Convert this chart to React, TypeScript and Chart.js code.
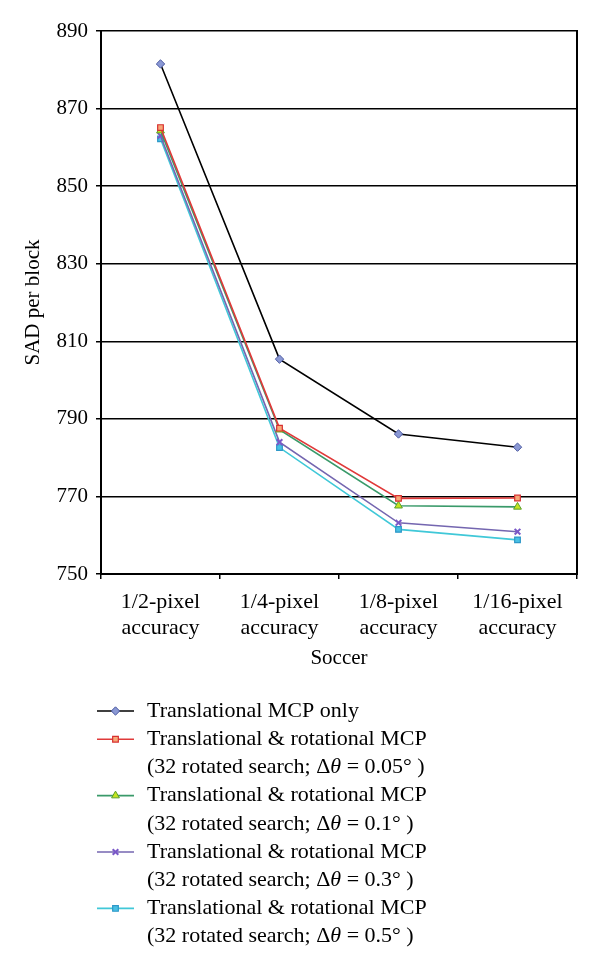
import React, { useEffect, useRef } from 'react';
import { Chart, registerables } from 'chart.js';
import { drawPoint } from 'chart.js/helpers';

Chart.register(...registerables);

// ---- data ----
const categories: string[][] = [
  ['1/2-pixel', 'accuracy'],
  ['1/4-pixel', 'accuracy'],
  ['1/8-pixel', 'accuracy'],
  ['1/16-pixel', 'accuracy'],
];
const translationalOnly = [881.5, 805.4, 786.1, 782.7];
const rotational005 = [865.1, 787.6, 769.5, 769.6];
const rotational01 = [864.3, 787.2, 767.6, 767.3];
const rotational03 = [863.0, 784.0, 763.2, 760.9];
const rotational05 = [862.2, 782.6, 761.5, 758.8];

const seriesLabels = [
  'Translational MCP only',
  'Translational & rotational MCP\n(32 rotated search; Δθ = 0.05° )',
  'Translational & rotational MCP\n(32 rotated search; Δθ = 0.1° )',
  'Translational & rotational MCP\n(32 rotated search; Δθ = 0.3° )',
  'Translational & rotational MCP\n(32 rotated search; Δθ = 0.5° )',
];
const yMin = 750;
const yMax = 890;
const yStep = 20;
const xTitle = 'Soccer';
const yTitle = 'SAD per block';

const FAMILY = '"Liberation Serif", "DejaVu Serif", serif';
const FS = 21;
const FS_LEGEND = 22;
const FS_XTICK = 22;

const legendPlugin = {
  id: 'serifLegend',
  afterDraw(chart: any) {
    const ctx = chart.ctx as CanvasRenderingContext2D;
    const lh = 28.2;
    const x0 = 97;
    const x1 = 134;
    const tx = 147;
    let y = 711;
    chart.data.datasets.forEach((ds: any) => {
      const lines = String(ds.label).split('\n');
      ctx.save();
      ctx.strokeStyle = ds.borderColor;
      ctx.lineWidth = ds.borderWidth;
      ctx.beginPath();
      ctx.moveTo(x0, y);
      ctx.lineTo(x1, y);
      ctx.stroke();
      ctx.fillStyle = ds.pointBackgroundColor;
      ctx.strokeStyle = ds.pointBorderColor;
      ctx.lineWidth = ds.pointBorderWidth;
      drawPoint(ctx, { pointStyle: ds.pointStyle, rotation: 0, radius: ds.pointRadius, borderWidth: ds.pointBorderWidth } as any, (x0 + x1) / 2, y);
      ctx.fillStyle = '#000';
      ctx.textBaseline = 'middle';
      ctx.textAlign = 'left';
      lines.forEach((ln, j) => {
        const parts = ln.split('θ');
        let cx = tx;
        const ly = y + j * lh;
        parts.forEach((p, k) => {
          ctx.font = `${FS_LEGEND}px ${FAMILY}`;
          ctx.fillText(p, cx, ly);
          cx += ctx.measureText(p).width;
          if (k < parts.length - 1) {
            ctx.font = `italic ${FS_LEGEND}px ${FAMILY}`;
            ctx.fillText('θ', cx, ly);
            cx += ctx.measureText('θ').width;
          }
        });
      });
      ctx.restore();
      y += lines.length * lh;
    });
  },
};

export default function App() {
  const ref = useRef<HTMLCanvasElement | null>(null);
  useEffect(() => {
    if (!ref.current) return;
    const mk = (label: string, data: number[], line: string, style: string, fill: string, border: string, radius: number, bw: number) => ({
      label,
      data,
      borderColor: line,
      borderWidth: 1.6,
      pointStyle: style,
      pointBackgroundColor: fill,
      pointBorderColor: border,
      pointBorderWidth: bw,
      pointRadius: radius,
      tension: 0,
      fill: false,
    });
    const chart = new Chart(ref.current, {
      type: 'line',
      data: {
        labels: categories as any,
        datasets: [
          mk(seriesLabels[0], translationalOnly, '#000000', 'rectRot', '#8a98d4', '#4a58a0', 4.2, 1),
          mk(seriesLabels[1], rotational005, '#e03a3a', 'rect', '#f6a878', '#d83030', 4, 1.2),
          mk(seriesLabels[2], rotational01, '#3a9a6a', 'triangle', '#c4e420', '#5aa02a', 4.5, 1),
          mk(seriesLabels[3], rotational03, '#7466b0', 'crossRot', '#8060c8', '#7a58c8', 4, 2),
          mk(seriesLabels[4], rotational05, '#40c8d8', 'rect', '#48c0e4', '#2e98c8', 4, 1.2),
        ] as any,
      },
      options: {
        animation: false,
        responsive: false,
        devicePixelRatio: 1,
        layout: { padding: { top: 31, right: 23, bottom: 966 - 574 - 110, left: 0 } },
        plugins: {
          legend: { display: false },
          tooltip: { enabled: false },
        },
        scales: {
          x: {
            type: 'category',
            offset: true,
            grid: { offset: true, drawOnChartArea: false, drawTicks: true, tickLength: 5, color: '#000', lineWidth: 1.5 },
            border: { color: '#000', width: 2 },
            ticks: { color: '#000', font: { family: FAMILY, size: FS_XTICK, lineHeight: 1.15 }, padding: 11, maxRotation: 0, autoSkip: false },
            title: { display: true, text: xTitle, color: '#000', font: { family: FAMILY, size: FS }, padding: { top: 0, bottom: 13 } },
            afterFit: (s: any) => { s.height = 110; },
          },
          y: {
            min: yMin,
            max: yMax,
            ticks: { stepSize: yStep, color: '#000', font: { family: FAMILY, size: FS }, padding: 8 },
            grid: { color: '#000', lineWidth: 1.5, drawTicks: true, tickLength: 5 },
            border: { color: '#000', width: 2 },
            title: { display: true, text: yTitle, color: '#000', font: { family: FAMILY, size: FS }, padding: { top: 21, bottom: 0 } },
            afterFit: (s: any) => { s.width = 101; },
          },
          y2: {
            position: 'right',
            display: true,
            grid: { drawOnChartArea: false, drawTicks: false },
            ticks: { display: false },
            border: { color: '#000', width: 2 },
            afterFit: (s: any) => { s.width = 0; },
          },
        },
      } as any,
      plugins: [legendPlugin],
    });
    return () => chart.destroy();
  }, []);
  return (
    <div style={{ position: 'absolute', left: 0, top: 0, width: 600, height: 966, background: '#fff' }}>
      <canvas ref={ref} width={600} height={966} style={{ display: 'block' }} />
    </div>
  );
}
